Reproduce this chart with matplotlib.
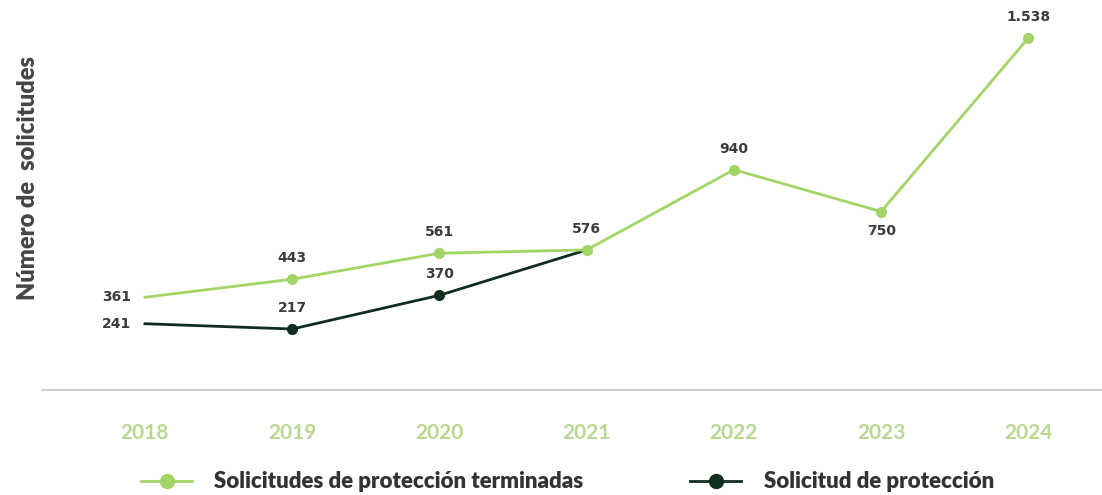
import matplotlib.pyplot as plt
from matplotlib.lines import Line2D

years = ['2018', '2019', '2020', '2021', '2022', '2023', '2024']
terminadas = [361, 443, 561, 576, 940, 750, 1538]
terminadas_lbl = ['361', '443', '561', '576', '940', '750', '1.538']
solicitud = [241, 217, 370, 576]
solicitud_lbl = ['241', '217', '370', '']

light = '#a3d466'
dark = '#0f2e1e'
txt = '#3c3c3c'

plt.rcParams['font.family'] = ['Lato', 'DejaVu Sans']

fig = plt.figure(figsize=(11.02, 4.95), dpi=100)
ax = fig.add_axes([0.038, 0.212, 0.962, 0.788])

x = list(range(len(years)))
xs = x[:len(solicitud)]

ax.plot(x, terminadas, color=light, lw=2, marker='o', ms=7, markevery=list(range(1, 7)), zorder=3)
ax.plot(xs, solicitud, color=dark, lw=2, marker='o', ms=7, markevery=list(range(1, 3)), zorder=2)

lbl_kw = dict(textcoords='offset points', va='center', fontsize=10, fontweight='bold',
              color=txt, family='DejaVu Sans')
for i, (v, l) in enumerate(zip(terminadas, terminadas_lbl)):
    if i == 0:
        ax.annotate(l, (i, v), xytext=(-10, 0), ha='right', **lbl_kw)
    elif years[i] == '2023':
        ax.annotate(l, (i, v), xytext=(0, -14), ha='center', **lbl_kw)
    else:
        ax.annotate(l, (i, v), xytext=(0, 15), ha='center', **lbl_kw)
for i, (v, l) in enumerate(zip(solicitud, solicitud_lbl)):
    if i == 0:
        ax.annotate(l, (i, v), xytext=(-10, 0), ha='right', **lbl_kw)
    else:
        ax.annotate(l, (i, v), xytext=(0, 15), ha='center', **lbl_kw)

ax.set_xlim(-0.70, 6.50)
ax.set_ylim(-60, 1710)
ax.set_xticks(x)
ax.set_xticklabels(years, fontsize=15, color='#b8d88f', fontweight='bold')
ax.tick_params(axis='x', length=0, pad=24)
ax.set_yticks([])
for s in ['top', 'right', 'left']:
    ax.spines[s].set_visible(False)
ax.spines['bottom'].set_color('#cfcfcf')
ax.spines['bottom'].set_linewidth(1.5)

fig.text(0.025, 0.64, 'Número de  solicitudes', rotation=90, ha='center', va='center',
         fontsize=17, fontweight='heavy', color='#454545')

handles = [Line2D([], [], color=light, lw=2, marker='o', ms=10),
           Line2D([], [], color=dark, lw=2, marker='o', ms=10)]
leg = fig.legend(handles, ['Solicitudes de protección terminadas', 'Solicitud de protección'],
                 loc='lower center', bbox_to_anchor=(0.515, -0.035), ncol=2, frameon=False,
                 handlelength=2.3, columnspacing=4.8, handletextpad=1.0,
                 prop={'weight': 'heavy', 'size': 16})
for t in leg.get_texts():
    t.set_color('#333333')

fig.savefig('out.png', dpi=100, facecolor='white')
